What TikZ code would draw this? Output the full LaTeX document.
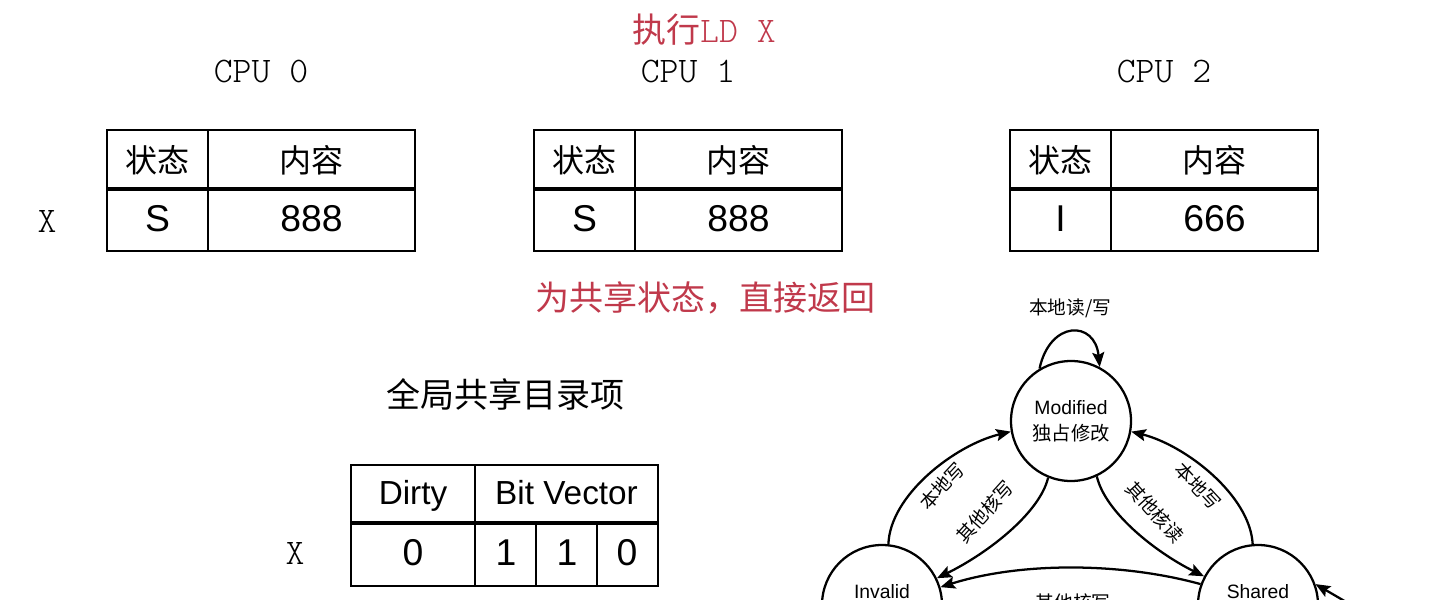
\documentclass[tikz,border=0pt]{standalone}
\usepackage{fontspec}
\setmainfont{Liberation Sans}
\setmonofont{Latin Modern Mono Light}
\newfontfamily\cjk{Noto Sans CJK SC}
\usetikzlibrary{arrows.meta}
\definecolor{hintred}{RGB}{192,57,75}

\begin{document}
\begin{tikzpicture}[x=0.75pt,y=-0.75pt,
  gridline/.style={line width=1.5pt},
  headline/.style={line width=3pt},
  monotext/.style={font=\ttfamily\fontsize{27}{30}\selectfont},
  headtext/.style={font=\cjk\fontsize{24}{28}\selectfont},
  celltext/.style={font=\fontsize{28}{32}\selectfont,text height=20pt,text depth=6pt},
  fieldtext/.style={font=\fontsize{25}{29}\selectfont,text height=18pt,text depth=5pt},
  notetext/.style={font=\cjk\fontsize{25.5}{30}\selectfont},
  state/.style={draw,circle,line width=1.7pt,minimum size=90pt,inner sep=0pt,align=center,font=\fontsize{14.5}{19.5}\selectfont},
  trans/.style={line width=1.7pt,-{Stealth[length=11pt,width=9pt,inset=2pt]}},
  translabel/.style={font=\cjk\fontsize{14}{16}\selectfont}]
\useasboundingbox (0,0) rectangle (1444,599);
\clip (0,0) rectangle (1444,599);

% load instruction
\node[text=hintred] (title) at (704,30) {{\cjk\fontsize{25.5}{30}\selectfont 执行}{\ttfamily\fontsize{27}{30}\selectfont LD X}};

% private caches of the three cores
\foreach \i/\x/\s/\v in {0/107/S/888,1/534/S/888,2/1010/I/666}{
  \draw[gridline] (\x,130) rectangle ++(308,121);
  \draw[gridline] (\x+101,130) -- (\x+101,251);
  \draw[headline] (\x,189) -- ++(308,0);
  \node[monotext] (cpu\i) at (\x+154,72) {CPU \i};
  \node[headtext] (st\i) at (\x+50.5,160) {状态};
  \node[headtext] (ct\i) at (\x+204.5,160) {内容};
  \node[celltext] (sv\i) at (\x+50.5,222) {\s};
  \node[celltext] (cv\i) at (\x+204.5,222) {\v};
}
\node[monotext] (xcpu) at (47,222) {X};
\node[notetext,text=hintred] (hit) at (705,298) {为共享状态，直接返回};

% directory entry
\node[notetext] (dirtitle) at (505,394) {全局共享目录项};
\draw[gridline] (351,465) rectangle (658,586);
\draw[gridline] (475,465) -- (475,586);
\draw[gridline] (536,523) -- (536,586);
\draw[gridline] (597,523) -- (597,586);
\draw[headline] (351,523) -- (658,523);
\node[fieldtext] (dirty) at (413,496) {Dirty};
\node[fieldtext] (bitvec) at (566.5,496) {Bit Vector};
\node[celltext] (dbit) at (413,556) {0};
\foreach \n/\b/\x in {1/1/506,2/1/567,3/0/627}
  \node[celltext] (bit\n) at (\x,556) {\b};
\node[monotext] (xdir) at (295,553) {X};

% state machine
\node[state] (M) at (1071,421) {Modified\\{\cjk 独占修改}};
\node[state] (I) at (882,605) {Invalid\\\phantom{Invalid}};
\node[state] (S) at (1258,605) {Shared\\\phantom{Shared}};
\coordinate (E) at (1384,624);

\draw[trans] (M.121) .. controls (1050,320) and (1095,320) .. (M.62);
\draw[trans] (I.84) .. controls (890,495) and (955,445) .. (M.190);
\draw[trans] (M.248) .. controls (1040,512) and (990,552) .. (I.26);
\draw[trans] (M.295) .. controls (1105,512) and (1155,552) .. (S.152);
\draw[trans] (S.95) .. controls (1250,495) and (1185,445) .. (M.350);
\draw[trans] (S.160) .. controls (1120,562) and (1020,562) .. (I.17);
\draw[trans] (E) -- (S.20);

\node[translabel] (rw) at (1070,308) {本地读/写};
\node[translabel,rotate=47] (iwm) at (942,486) {本地写};
\node[translabel,rotate=48] (mwi) at (985,512) {其他核写};
\node[translabel,rotate=-48] (mrs) at (1155,512) {其他核读};
\node[translabel,rotate=-47] (swm) at (1198,486) {本地写};
\node[translabel] (swi) at (1073,602) {其他核写};
\end{tikzpicture}
\end{document}
